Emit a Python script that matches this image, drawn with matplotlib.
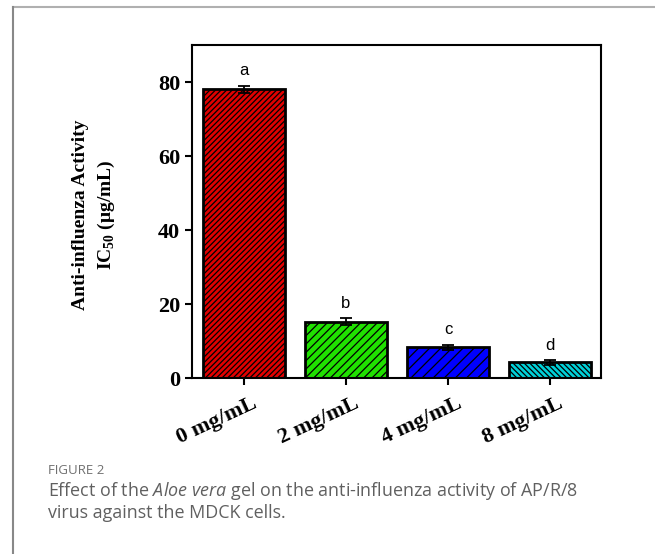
import matplotlib.pyplot as plt
from matplotlib.lines import Line2D
from matplotlib.transforms import ScaledTranslation

categories = ["0 mg/mL", "2 mg/mL", "4 mg/mL", "8 mg/mL"]
ic50 = [78.0, 15.2, 8.3, 4.2]
errors = [1.0, 1.0, 0.7, 0.6]
letters = ["a", "b", "c", "d"]
colors = ["#e00000", "#20e000", "#0000ff", "#00d0d8"]
hatches = ["//////", "////", "///", "\\\\\\\\\\\\"]

plt.rcParams["hatch.linewidth"] = 0.9
plt.rcParams["mathtext.fontset"] = "custom"
plt.rcParams["mathtext.rm"] = "Liberation Serif:bold"
plt.rcParams["mathtext.it"] = "Open Sans:italic"
plt.rcParams["mathtext.bf"] = "Liberation Serif:bold"

fig = plt.figure(figsize=(6.55, 5.54), dpi=100)

# card border (top and left edges)
fig.add_artist(Line2D([13 / 655, 1.0], [1 - 7 / 554, 1 - 7 / 554],
                      color="#b0b0b0", lw=1.5, transform=fig.transFigure))
fig.add_artist(Line2D([13 / 655, 13 / 655], [0, 1 - 7 / 554],
                      color="#888888", lw=1.5, transform=fig.transFigure))

ax = fig.add_axes([192 / 655, 1 - 378 / 554, 409 / 655, 333 / 554])
x = range(len(categories))
bars = ax.bar(x, ic50, width=0.8, color=colors, edgecolor="black",
              linewidth=2, hatch=hatches)
for b, h in zip(bars, hatches):
    b.set_hatch(h)
ax.errorbar(x, ic50, yerr=errors, fmt="none", ecolor="black",
            elinewidth=1.3, capsize=4, capthick=1.3)
for i, (v, e, t) in enumerate(zip(ic50, errors, letters)):
    ax.text(i, v + e + 2.0, t, ha="center", va="bottom",
            fontsize=12, family="Liberation Sans")

ax.set_xlim(-0.51, 3.5)
ax.set_ylim(0, 90)
ax.set_yticks([0, 20, 40, 60, 80])
ax.set_xticks(list(x))
ax.set_xticklabels(categories, rotation=25, ha="right",
                   rotation_mode="anchor")
for s in ax.spines.values():
    s.set_linewidth(1.5)
ax.tick_params(width=1.5, length=5)
ax.tick_params(axis="x", pad=6)
shift = ScaledTranslation(8 / 100, 0, fig.dpi_scale_trans)
for lab in ax.get_xticklabels():
    lab.set_transform(lab.get_transform() + shift)
for lab in ax.get_xticklabels() + ax.get_yticklabels():
    lab.set_family("Liberation Serif")
    lab.set_fontweight("bold")
    lab.set_fontsize(16)

ax.set_ylabel("Anti-influenza Activity\nIC$_{50}$ (μg/mL)",
              family="Liberation Serif", fontweight="bold", fontsize=14,
              linespacing=1.45)
ax.yaxis.set_label_coords(-0.183, 0.49)

fig.text(48 / 655, 1 - 470 / 554, "FIGURE 2", family="Open Sans",
         fontsize=9.5, color="#707070", va="center")
fig.text(48 / 655, 1 - 491 / 554,
         "Effect of the $\\mathit{Aloe\\ vera}$ gel on the anti-influenza activity of AP/R/8",
         family="Open Sans", fontsize=12.9, color="#606060", va="center")
fig.text(48 / 655, 1 - 513 / 554, "virus against the MDCK cells.",
         family="Open Sans", fontsize=12.9, color="#606060", va="center")

fig.savefig("out.png", dpi=100)
